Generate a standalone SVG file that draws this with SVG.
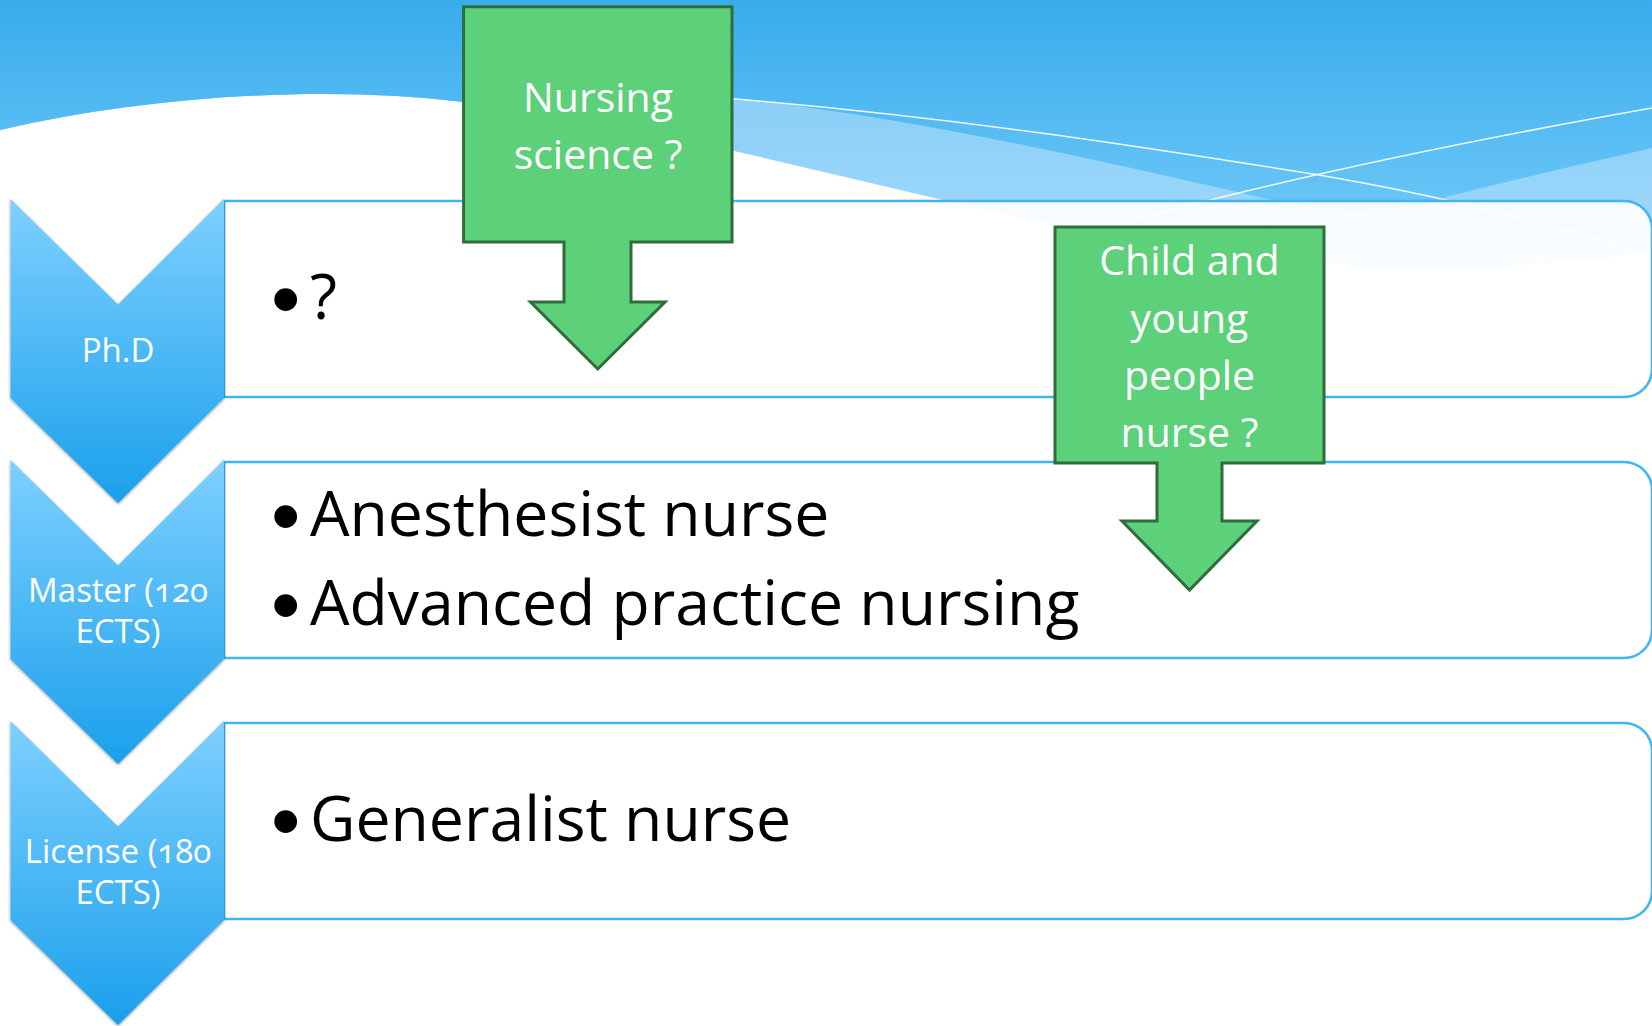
<svg xmlns="http://www.w3.org/2000/svg" width="1652" height="1026" viewBox="0 0 1652 1026">
<defs>
<linearGradient id="gBlue" x1="0" y1="0" x2="0" y2="1">
<stop offset="0" stop-color="#38acec"/>
<stop offset="1" stop-color="#6ac6f7"/>
</linearGradient>
<linearGradient id="gLight" x1="0" y1="0" x2="0" y2="1">
<stop offset="0" stop-color="#7cc8f6"/>
<stop offset="1" stop-color="#a4dafb"/>
</linearGradient>
<linearGradient id="gChev" x1="0" y1="0" x2="0" y2="1">
<stop offset="0" stop-color="#7ed0fe"/>
<stop offset="1" stop-color="#1aa0ec"/>
</linearGradient>
<filter id="shadow" x="-10%" y="-10%" width="120%" height="120%">
<feDropShadow dx="0" dy="1" stdDeviation="1.6" flood-color="#000" flood-opacity="0.45"/>
</filter>
</defs>
<style>
.chev{fill:url(#gChev);filter:url(#shadow)}
.box{fill:#ffffff;fill-opacity:0.93;stroke:#3fb5f4;stroke-width:2.5}
.clabel{font-family:"Open Sans","Noto Sans",sans-serif;font-size:33px;fill:#ffffff;text-anchor:middle;font-variant-numeric:oldstyle-nums}
.item{font-family:"Open Sans","Noto Sans",sans-serif;font-size:62.5px;fill:#000000}
.bul{font-family:"Liberation Sans",Arial,sans-serif;font-size:84px;fill:#000000}
.garrow{fill:#5dd07a;stroke:#2f6d3b;stroke-width:3;stroke-linejoin:miter}
.glabel{font-family:"Open Sans","Noto Sans",sans-serif;font-size:41px;fill:#ffffff;text-anchor:middle}
.wline{fill:none;stroke:#ffffff;stroke-width:1.6;stroke-opacity:0.9}
</style>
<rect width="1652" height="1026" fill="#ffffff"/>
<g id="background">
<path d="M0,0 H1652 V250 C1620,258 1550,264 1459,268 C1350,272 1150,250 943,200 C870,183 800,166 730,150 C650,130 560,110 463,102 C330,85 150,95 0,130 Z" fill="url(#gLight)"/>
<path d="M0,0 H1652 V148 C1600,160 1520,178 1435,200 C1380,215 1330,215 1271,200 C1100,160 900,115 730,98 L463,102 C330,85 150,95 0,130 Z" fill="url(#gBlue)"/>
<path class="wline" d="M700,96 C950,116 1150,148 1319,175 C1440,196 1560,225 1652,257"/>
<path class="wline" d="M1652,108 C1500,135 1350,165 1210,200 C1170,210 1140,218 1119,224"/>
</g>
<g id="boxes">
<path id="box-phd" class="box" d="M224,201 H1624 A28,28 0 0 1 1652,229 V369 A28,28 0 0 1 1624,397 H224 Z"/>
<path id="box-master" class="box" d="M224,462 H1624 A28,28 0 0 1 1652,490 V630 A28,28 0 0 1 1624,658 H224 Z"/>
<path id="box-license" class="box" d="M224,723 H1624 A28,28 0 0 1 1652,751 V891 A28,28 0 0 1 1624,919 H224 Z"/>
</g>
<g id="node-phd">
<polygon class="chev" points="10.5,199 118,304.5 224,199 224,398 118,503 10.5,398"/>
<text class="clabel" x="118" y="362">Ph.D</text>
<text class="bul" x="271" y="327">•</text>
<text class="item" x="310" y="319">?</text>
</g>
<g id="node-master">
<polygon class="chev" points="10.5,460 118,565.5 224,460 224,659 118,764 10.5,659"/>
<text class="clabel" x="118" y="602">Master (120</text>
<text class="clabel" x="118" y="643">ECTS)</text>
<text class="bul" x="271" y="544">•</text>
<text class="item" x="310" y="536">Anesthesist nurse</text>
<text class="bul" x="271" y="633">•</text>
<text class="item" x="310" y="625">Advanced practice nursing</text>
</g>
<g id="node-license">
<polygon class="chev" points="10.5,721 118,826.5 224,721 224,920 118,1025 10.5,920"/>
<text class="clabel" x="118" y="863">License (180</text>
<text class="clabel" x="118" y="904">ECTS)</text>
<text class="bul" x="271" y="849">•</text>
<text class="item" x="310" y="841">Generalist nurse</text>
</g>
<g id="node-nursing-science">
<path class="garrow" d="M463.6,6.7 H732 V242 H631 V302 H665 L597.8,369 L530.5,302 H564 V242 H463.6 Z"/>
<text class="glabel" x="598" y="112">Nursing</text>
<text class="glabel" x="598" y="169">science ?</text>
</g>
<g id="node-child-nurse">
<path class="garrow" d="M1055,227 H1324 V463 H1222 V521 H1257 L1189.5,590 L1122,521 H1157 V463 H1055 Z"/>
<text class="glabel" x="1189.5" y="275">Child and</text>
<text class="glabel" x="1189.5" y="333">young</text>
<text class="glabel" x="1189.5" y="390">people</text>
<text class="glabel" x="1189.5" y="447">nurse ?</text>
</g>
<g id="connectors"/>
</svg>
